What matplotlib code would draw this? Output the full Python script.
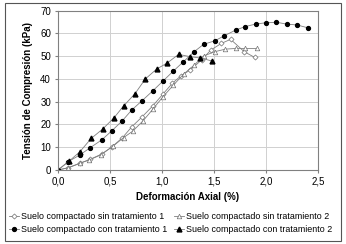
import matplotlib.pyplot as plt
from matplotlib.patches import Rectangle

plt.rcParams['font.family'] = ['Liberation Sans', 'DejaVu Sans']

# sin tratamiento 1 (open diamonds)
x_sin1 = [0.0, 0.10, 0.21, 0.31, 0.42, 0.52, 0.62, 0.71, 0.81, 0.91, 1.01, 1.10,
          1.18, 1.27, 1.38, 1.47, 1.57, 1.66, 1.79, 1.89]
y_sin1 = [0.0, 1.0, 2.9, 4.7, 7.0, 10.2, 14.2, 19.0, 23.4, 28.1, 33.4, 38.1,
          41.3, 43.9, 48.3, 52.7, 55.6, 57.4, 52.0, 49.5]

# sin tratamiento 2 (open triangles)
x_sin2 = [0.0, 0.10, 0.21, 0.30, 0.41, 0.53, 0.63, 0.72, 0.82, 0.91, 1.01, 1.11,
          1.21, 1.31, 1.40, 1.51, 1.61, 1.71, 1.80, 1.91]
y_sin2 = [0.0, 1.0, 3.0, 4.4, 6.6, 10.5, 14.2, 17.1, 21.7, 26.6, 32.2, 37.3,
          42.2, 46.1, 50.1, 52.0, 53.1, 53.4, 53.4, 53.4]

# con tratamiento 1 (filled circles)
x_con1 = [0.0, 0.10, 0.21, 0.31, 0.42, 0.52, 0.62, 0.71, 0.81, 0.91, 1.01, 1.11,
          1.20, 1.31, 1.40, 1.51, 1.60, 1.71, 1.80, 1.90, 2.00, 2.10, 2.20, 2.30, 2.40]
y_con1 = [0.0, 3.7, 6.6, 9.8, 13.2, 17.3, 21.7, 26.4, 30.5, 34.7, 39.1, 43.5,
          47.3, 52.0, 55.2, 56.8, 59.0, 61.5, 63.0, 64.1, 64.7, 64.9, 64.1, 63.7, 62.5]

# con tratamiento 2 (filled triangles)
x_con2 = [0.0, 0.11, 0.21, 0.32, 0.43, 0.54, 0.63, 0.74, 0.84, 0.95, 1.05, 1.16,
          1.27, 1.37, 1.48]
y_con2 = [0.0, 4.0, 8.0, 13.9, 18.0, 23.0, 28.1, 33.5, 40.0, 44.4, 47.0, 50.8,
          49.8, 49.2, 47.9]

x_ticks = [0.0, 0.5, 1.0, 1.5, 2.0, 2.5]
y_ticks = [0, 10, 20, 30, 40, 50, 60, 70]

fig = plt.figure(figsize=(3.46, 2.44), dpi=100)
fig.patches.append(Rectangle((0.015, 0.012), 0.97, 0.975, transform=fig.transFigure,
                             fill=False, edgecolor='#555555', linewidth=0.8))
ax = fig.add_axes([0.1676, 0.3033, 0.7514, 0.653])

line_c = '#7f7f7f'
h_sin1, = ax.plot(x_sin1, y_sin1, color=line_c, lw=0.6, marker='D', ms=2.6,
                  mfc='white', mec='#707070', mew=0.5, label='Suelo compactado sin tratamiento 1')
h_sin2, = ax.plot(x_sin2, y_sin2, color=line_c, lw=0.6, marker='^', ms=3.3,
                  mfc='white', mec='#707070', mew=0.5, label='Suelo compactado sin tratamiento 2')
h_con1, = ax.plot(x_con1, y_con1, color=line_c, lw=0.6, marker='o', ms=2.8,
                  mfc='black', mec='black', label='Suelo compactado con tratamiento 1')
h_con2, = ax.plot(x_con2, y_con2, color=line_c, lw=0.6, marker='^', ms=3.5,
                  mfc='black', mec='black', label='Suelo compactado con tratamiento 2')

ax.set_xlim(0, 2.5)
ax.set_ylim(0, 70)
ax.set_xticks(x_ticks)
ax.set_xticklabels([f'{v:.1f}'.replace('.', ',') for v in x_ticks])
ax.set_yticks(y_ticks)
ax.grid(True, color='#d0d0d0', lw=0.7)
ax.set_axisbelow(True)
for s in ax.spines.values():
    s.set_color('#808080')
    s.set_linewidth(0.8)
ax.tick_params(labelsize=7, length=2, color='#808080', pad=3)

ax.set_xlabel('Deformación Axial (%)', fontsize=7, fontweight='bold', labelpad=4)
ax.set_ylabel('Tensión de Compresión (kPa)', fontsize=7, fontweight='bold', labelpad=5)

handles = [h_sin1, h_con1, h_sin2, h_con2]
fig.legend(handles, [h.get_label() for h in handles],
           loc='lower left', bbox_to_anchor=(0.01, 0.02), ncol=2, frameon=False,
           fontsize=6.4, handlelength=1.1, handletextpad=0.25, columnspacing=0.8,
           labelspacing=0.45, borderaxespad=0.2)

fig.savefig('out.png', dpi=100)
